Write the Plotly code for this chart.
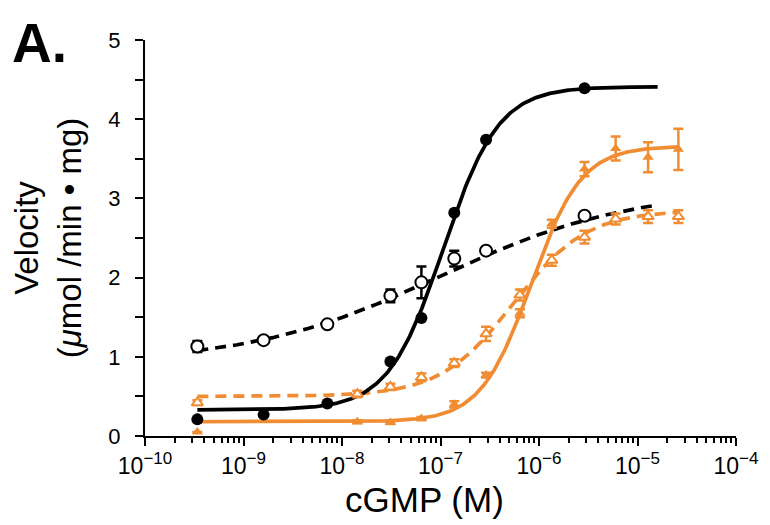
import numpy as np
import plotly.graph_objects as go

# ---------------- data ----------------
conc_black = [3.4e-10, 1.6e-9, 7.1e-9, 3.1e-8, 6.4e-8, 1.38e-7, 2.9e-7, 2.9e-6]
black_filled = [0.21, 0.27, 0.41, 0.94, 1.49, 2.82, 3.74, 4.39]
black_filled_err = [0.0, 0.0, 0.0, 0.0, 0.0, 0.0, 0.0, 0.0]
black_open = [1.13, 1.21, 1.41, 1.77, 1.94, 2.24, 2.34, 2.78]
black_open_err = [0.07, 0.03, 0.03, 0.08, 0.20, 0.10, 0.03, 0.03]

conc_orange = [3.4e-10, 1.43e-8, 3.1e-8, 6.4e-8, 1.38e-7, 2.9e-7, 6.4e-7,
               1.35e-6, 2.9e-6, 6.0e-6, 1.28e-5, 2.6e-5]
orange_filled = [0.05, 0.18, 0.17, 0.22, 0.40, 0.77, 1.55, 2.68, 3.37, 3.63, 3.52, 3.62]
orange_filled_err = [0.0, 0.02, 0.02, 0.02, 0.04, 0.03, 0.05, 0.05, 0.09, 0.15, 0.19, 0.26]
orange_open = [0.42, 0.53, 0.62, 0.74, 0.92, 1.29, 1.78, 2.22, 2.51, 2.74, 2.77, 2.77]
orange_open_err = [0.03, 0.04, 0.04, 0.05, 0.05, 0.09, 0.07, 0.07, 0.08, 0.07, 0.08, 0.08]

# fitted dose-response (4-parameter logistic) parameters for each curve
fit_names = ["black_solid", "black_dashed", "orange_solid", "orange_dashed"]
fit_bottom = [0.33, 0.92, 0.18, 0.50]
fit_top = [4.41, 3.12, 3.66, 2.85]
fit_ec50 = [1.07e-7, 1.0e-7, 8.3e-7, 5.5e-7]
fit_hill = [1.55, 0.45, 1.7, 1.17]
fit_xmin = [3.4e-10, 3.4e-10, 3.4e-10, 3.4e-10]
fit_xmax = [1.6e-5, 1.6e-5, 2.6e-5, 2.6e-5]

x_tickvals = [1e-10, 1e-9, 1e-8, 1e-7, 1e-6, 1e-5, 1e-4]
x_exponents = ["−10", "−9", "−8", "−7", "−6", "−5", "−4"]

# ---------------- styling ----------------
BLACK = "#000000"
ORANGE = "#F08C32"
FONT = "Liberation Sans, Arial, Helvetica, sans-serif"

x_ticktext = ["10<sup><span style='font-size:17px'>%s</span></sup>" % e for e in x_exponents]


def hill(x, b, t, ec, n):
    return b + (t - b) / (1.0 + (ec / x) ** n)


fig = go.Figure()

line_styles = {
    "black_dashed": dict(color=BLACK, width=3.7, dash="11px,7px"),
    "orange_dashed": dict(color=ORANGE, width=3.7, dash="11px,7px"),
    "black_solid": dict(color=BLACK, width=3.7),
    "orange_solid": dict(color=ORANGE, width=3.7),
}
for name in ["black_dashed", "orange_dashed", "black_solid", "orange_solid"]:
    i = fit_names.index(name)
    xs = np.logspace(np.log10(fit_xmin[i]), np.log10(fit_xmax[i]), 300)
    ys = hill(xs, fit_bottom[i], fit_top[i], fit_ec50[i], fit_hill[i])
    fig.add_trace(go.Scatter(x=xs, y=ys, mode="lines", line=line_styles[name],
                             hoverinfo="skip", showlegend=False))

# data points
fig.add_trace(go.Scatter(
    x=conc_black, y=black_open, mode="markers",
    marker=dict(symbol="circle", size=12, color="white", line=dict(color=BLACK, width=2)),
    error_y=dict(type="data", array=black_open_err, color=BLACK, thickness=2.5, width=5),
    showlegend=False))
fig.add_trace(go.Scatter(
    x=conc_black, y=black_filled, mode="markers",
    marker=dict(symbol="circle", size=12, color=BLACK, line=dict(color=BLACK, width=0)),
    error_y=dict(type="data", array=black_filled_err, color=BLACK, thickness=2.5, width=5),
    showlegend=False))
fig.add_trace(go.Scatter(
    x=conc_orange, y=orange_open, mode="markers",
    marker=dict(symbol="triangle-up", size=10, color="white", line=dict(color=ORANGE, width=2)),
    error_y=dict(type="data", array=orange_open_err, color=ORANGE, thickness=2.5, width=5),
    showlegend=False))
fig.add_trace(go.Scatter(
    x=conc_orange, y=orange_filled, mode="markers",
    marker=dict(symbol="triangle-up", size=10, color=ORANGE, line=dict(color=ORANGE, width=0)),
    error_y=dict(type="data", array=orange_filled_err, color=ORANGE, thickness=2.5, width=5),
    showlegend=False))

minor_x = [k * 10.0 ** e for e in range(-10, -4) for k in range(2, 10)]

# page has an 8px body margin, so the figure is sized to fit the remaining window
fig.update_layout(
    width=762, height=517, autosize=False,
    margin=dict(l=137, r=30, t=32, b=89),
    paper_bgcolor="white", plot_bgcolor="white",
    font=dict(family=FONT, color=BLACK, size=22),
    xaxis=dict(
        type="log", range=[-10, -4],
        tickmode="array", tickvals=x_tickvals, ticktext=x_ticktext,
        ticks="outside", ticklen=8, tickwidth=1.5, tickcolor=BLACK,
        showline=True, linecolor=BLACK, linewidth=2,
        showgrid=False, zeroline=False,
        tickfont=dict(size=23, family=FONT),
        minor=dict(tickmode="array", tickvals=minor_x, ticks="outside",
                   ticklen=5, tickwidth=1.5, tickcolor=BLACK, showgrid=False),
    ),
    yaxis=dict(
        range=[0, 5], tickmode="linear", tick0=0, dtick=1,
        ticks="outside", ticklen=8, tickwidth=1.5, tickcolor=BLACK,
        showline=True, linecolor=BLACK, linewidth=2,
        showgrid=False, zeroline=False,
        tickfont=dict(size=22, family=FONT),
        ticklabelstandoff=10,
        minor=dict(dtick=0.5, ticks="outside", ticklen=8, tickwidth=1.5,
                   tickcolor=BLACK, showgrid=False),
        title=dict(text="Velocity<br>(<i>μ</i>mol /min • mg)",
                   font=dict(size=33, family=FONT), standoff=18),
    ),
    annotations=[
        dict(text="<b>A.</b>", xref="paper", yref="paper",
             x=(9 - 145) / 595, y=(436 - 10) / 396, xanchor="left", yanchor="top",
             showarrow=False, font=dict(size=55, family=FONT, color=BLACK)),
        dict(text="cGMP (M)", xref="paper", yref="paper",
             x=(426 - 145) / 595, y=(436 - 499) / 396, xanchor="center", yanchor="middle",
             showarrow=False, font=dict(size=35, family=FONT, color=BLACK)),
    ],
)

fig.write_html("out.html")
